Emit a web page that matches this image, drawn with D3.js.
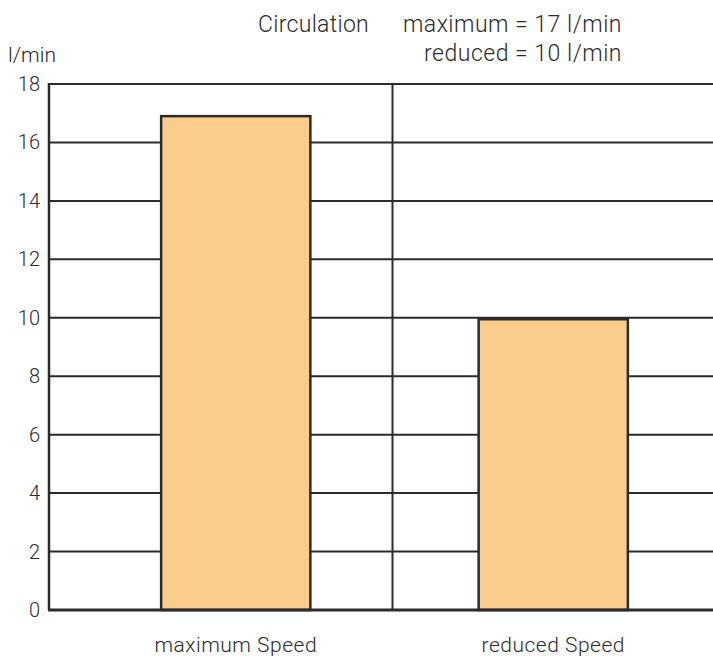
<!DOCTYPE html>
<html><head><meta charset="utf-8">
<script src="https://cdn.jsdelivr.net/npm/d3@7"></script>
<style>body{margin:0;background:#fff}svg{display:block}text{font-family:Roboto,"Liberation Sans",sans-serif;font-weight:300;fill:#2b2b2b}</style>
</head><body><svg id="c" width="713" height="659"></svg>
<script>
const categories = ["maximum Speed", "reduced Speed"];
const values = [16.9, 9.95];
const yTicks = [0, 2, 4, 6, 8, 10, 12, 14, 16, 18];
const unitLabel = "l/min";
const titleLabel = "Circulation";
const legendLines = ["maximum = 17 l/min", "reduced = 10 l/min"];

const svg = d3.select("#c");
const pL = 49, pR = 713, pT = 84, pB = 610;
const y = d3.scaleLinear().domain([0, 18]).range([pB, pT]);
const x = d3.scaleBand().domain(categories).range([77, 712]).paddingInner(0.53).paddingOuter(0.265);

// grid lines
svg.append("g").selectAll("line").data(yTicks.filter(d => d > 0)).join("line")
  .attr("x1", pL).attr("x2", pR).attr("y1", d => y(d)).attr("y2", d => y(d))
  .attr("stroke", "#2b2b2b").attr("stroke-width", 2);

// divider
const divX = x(categories[1]) - (x.step() - x.bandwidth()) / 2 - 2;
svg.append("line").attr("x1", divX).attr("x2", divX).attr("y1", pT).attr("y2", pB)
  .attr("stroke", "#2b2b2b").attr("stroke-width", 2);

// left axis line
svg.append("line").attr("x1", pL).attr("x2", pL).attr("y1", pT - 1).attr("y2", pB)
  .attr("stroke", "#2b2b2b").attr("stroke-width", 2.5);

// bars
svg.append("g").selectAll("rect").data(values).join("rect")
  .attr("x", (d, i) => x(categories[i])).attr("width", x.bandwidth())
  .attr("y", d => y(d)).attr("height", d => y(0) - y(d))
  .attr("fill", "#fbcd8d").attr("stroke", "#2b2b2b").attr("stroke-width", 2.5);

// baseline
svg.append("line").attr("x1", pL - 1).attr("x2", pR).attr("y1", pB).attr("y2", pB)
  .attr("stroke", "#2b2b2b").attr("stroke-width", 3);

// y tick labels
svg.append("g").selectAll("text").data(yTicks).join("text")
  .attr("x", 40).attr("y", d => y(d)).attr("dy", "0.35em").attr("text-anchor", "end")
  .attr("font-size", 20).text(d => d);

// unit
svg.append("text").attr("x", 8).attr("y", 62).attr("font-size", 21).text(unitLabel);

// category labels
svg.append("g").selectAll("text").data(categories).join("text")
  .attr("x", d => x(d) + x.bandwidth() / 2).attr("y", 652).attr("text-anchor", "middle")
  .attr("font-size", 21).attr("letter-spacing", 0.5).text(d => d);

// title
svg.append("text").attr("x", 258).attr("y", 32).attr("font-size", 23).attr("letter-spacing", 0.3).text(titleLabel);
svg.append("g").selectAll("text").data(legendLines).join("text")
  .attr("x", 622).attr("y", (d, i) => 32 + i * 29).attr("text-anchor", "end")
  .attr("font-size", 23).attr("letter-spacing", 0.5).text(d => d);
</script></body></html>
